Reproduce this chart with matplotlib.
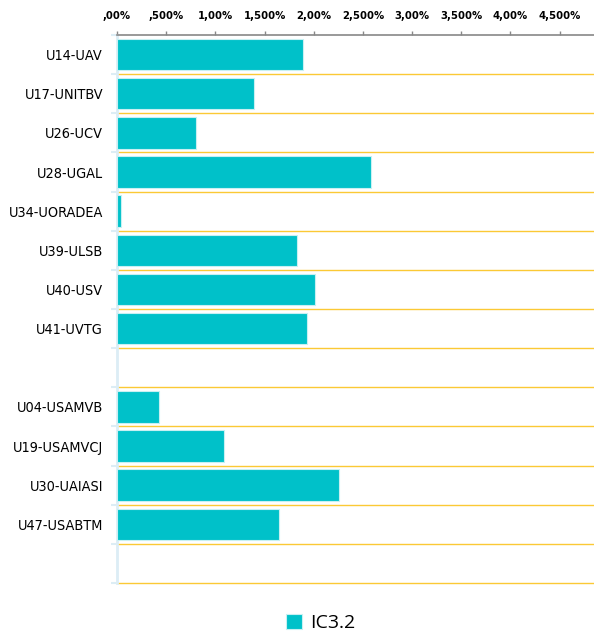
import numpy as np
import matplotlib
matplotlib.use("Agg")
import matplotlib.pyplot as plt
from matplotlib.ticker import FixedLocator

# date (procente)
categorii = ["U14-UAV", "U17-UNITBV", "U26-UCV", "U28-UGAL", "U34-UORADEA",
             "U39-ULSB", "U40-USV", "U41-UVTG", "",
             "U04-USAMVB", "U19-USAMVCJ", "U30-UAIASI", "U47-USABTM", ""]
valori = [1.89, 1.39, 0.80, 2.58, 0.04, 1.83, 2.01, 1.93, np.nan,
          0.43, 1.09, 2.26, 1.65, np.nan]
ticks_x = [0, 0.5, 1.0, 1.5, 2.0, 2.5, 3.0, 3.5, 4.0, 4.5]
etichete_x = [",00%", ",500%", "1,00%", "1,500%", "2,00%", "2,500%",
              "3,00%", "3,500%", "4,00%", "4,500%"]
serie = "IC3.2"

culoare_bara = "#00c1c9"
culoare_grila = "#fbc935"

fig = plt.figure(figsize=(5.94, 6.34), dpi=100)
ax = fig.add_axes([117/594, 1 - 583/634, 1 - 117/594, (583 - 35)/634])

n = len(categorii)
y = np.arange(n)
ax.barh(y, valori, height=0.8, color=culoare_bara, edgecolor="#c8f0f2",
        linewidth=0.8, label=serie, zorder=3)

ax.set_ylim(n - 0.5, -0.5)
ax.set_xlim(0, 4.85)

# linii de grila intre categorii
for b in np.arange(0.5, n, 1.0):
    ax.axhline(b, color=culoare_grila, linewidth=1.0, zorder=1, clip_on=False)

ax.xaxis.tick_top()
ax.set_xticks(ticks_x)
ax.set_xticklabels(etichete_x, fontsize=7.3, fontweight="bold")
ax.tick_params(axis="x", which="major", direction="out", length=3, width=1,
               color="#888888", pad=7)

ax.set_yticks(y)
ax.set_yticklabels(categorii, fontsize=10.4, family="DejaVu Sans", stretch="condensed")
ax.yaxis.set_minor_locator(FixedLocator(np.arange(-0.5, n, 1.0)))
ax.tick_params(axis="y", which="major", length=0, pad=10)
ax.tick_params(axis="y", which="minor", length=4, width=1.5, color="#dcedf5")

ax.spines["top"].set_color("#888888")
ax.spines["top"].set_linewidth(1.2)
ax.spines["left"].set_color("#dcedf5")
ax.spines["left"].set_linewidth(2)
ax.spines["right"].set_visible(False)
ax.spines["bottom"].set_visible(False)

fig.legend(loc="lower center", bbox_to_anchor=(0.54, -0.025), frameon=False,
           handlelength=0.8, handleheight=0.8, handletextpad=0.45,
           prop={"family": "Open Sans", "size": 14})

fig.savefig("out.png", dpi=100)
